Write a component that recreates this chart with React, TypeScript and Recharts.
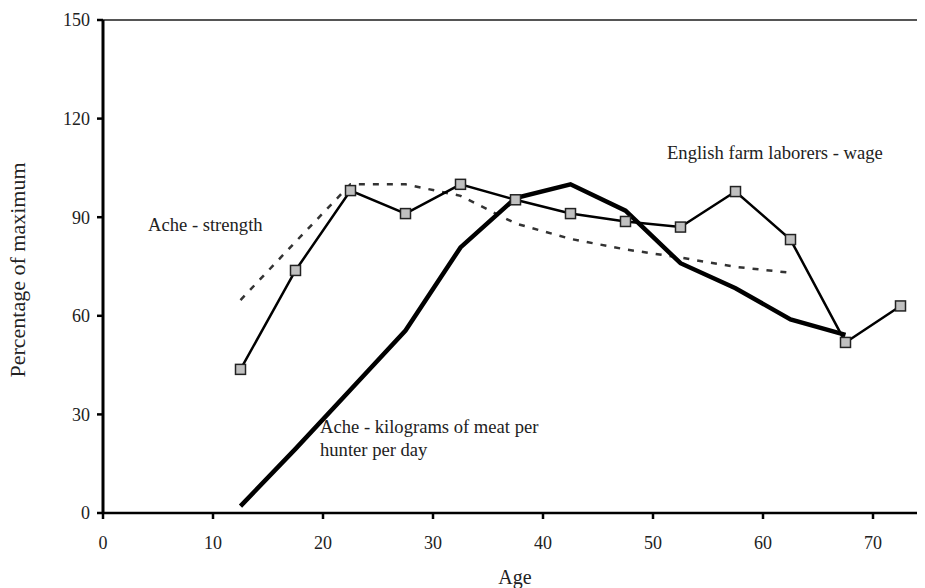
import React from 'react';
import { LineChart, Line, XAxis, YAxis, ReferenceLine } from 'recharts';

const ages = [12.5, 17.5, 22.5, 27.5, 32.5, 37.5, 42.5, 47.5, 52.5, 57.5, 62.5, 67.5, 72.5];
const englishWage = [43.7, 73.8, 98.1, 91.1, 100, 95.3, 91.1, 88.7, 87, 97.8, 83.2, 51.9, 63];
const acheMeat = [2.1, 19.5, 37.5, 55.5, 80.8, 95.8, 100, 92, 76, 68.4, 58.9, 54.2, null];
const acheStrength = [64.8, 82.5, 100, 100, 96.5, 88.1, 83.4, 80.2, 77.7, 74.9, 73.1, null, null];
const xTicks = [0, 10, 20, 30, 40, 50, 60, 70];
const yTicks = [0, 30, 60, 90, 120, 150];

const data = ages.map((a, i) => ({
  age: a,
  wage: englishWage[i],
  meat: acheMeat[i],
  strength: acheStrength[i],
}));

const FONT = '"Liberation Serif", "DejaVu Serif", serif';
const TEXT_COLOR = '#222';

const SquareDot = (props: any) => {
  const { cx, cy } = props;
  if (cx == null || cy == null) return null;
  return <rect x={cx - 5} y={cy - 5} width={10} height={10} fill="#c0c0c0" stroke="#222" strokeWidth={1.5} />;
};

const noteStyle: React.CSSProperties = {
  position: 'absolute',
  fontFamily: FONT,
  fontSize: 18.6,
  lineHeight: '22px',
  color: TEXT_COLOR,
  whiteSpace: 'nowrap',
};

const titleStyle: React.CSSProperties = {
  position: 'absolute',
  fontFamily: FONT,
  fontSize: 20,
  lineHeight: '24px',
  color: TEXT_COLOR,
  whiteSpace: 'nowrap',
};

export default function App() {
  return (
    <div style={{ position: 'relative', width: 917, height: 580 }}>
      <div style={{ position: 'absolute', left: 0, top: 0, width: 917, height: 580, overflow: 'hidden' }}>
        <LineChart
          width={925}
          height={580}
          data={data}
          margin={{ top: 12, right: 5, bottom: 0, left: 0 }}
        >
          <XAxis
            dataKey="age"
            type="number"
            domain={[0, 75]}
            ticks={xTicks}
            tickSize={6}
            tickMargin={17}
            height={75}
            axisLine={{ stroke: '#000', strokeWidth: 2.5 }}
            tickLine={{ stroke: '#000', strokeWidth: 2.5 }}
            tick={{ fill: TEXT_COLOR, fontSize: 18, fontFamily: FONT }}
          />
          <YAxis
            type="number"
            domain={[0, 150]}
            ticks={yTicks}
            width={95}
            tickSize={6}
            tickMargin={7}
            axisLine={{ stroke: '#000', strokeWidth: 3 }}
            tickLine={{ stroke: '#000', strokeWidth: 2.5 }}
            tick={{ fill: TEXT_COLOR, fontSize: 18, fontFamily: FONT }}
          />
          <ReferenceLine y={150} stroke="#555" strokeWidth={2} />
          <Line
            dataKey="strength"
            stroke="#333"
            strokeWidth={2.5}
            strokeDasharray="6 8"
            dot={false}
            isAnimationActive={false}
          />
          <Line
            dataKey="meat"
            stroke="#000"
            strokeWidth={4.5}
            dot={false}
            isAnimationActive={false}
          />
          <Line
            dataKey="wage"
            stroke="#000"
            strokeWidth={2.5}
            dot={<SquareDot />}
            isAnimationActive={false}
          />
        </LineChart>
      </div>
      <div style={{ ...noteStyle, left: 659, top: 133.7 }}>English farm laborers - wage</div>
      <div style={{ ...noteStyle, left: 140, top: 206.4 }}>Ache - strength</div>
      <div style={{ ...noteStyle, left: 312, top: 408 }}>Ache - kilograms of meat per</div>
      <div style={{ ...noteStyle, left: 312, top: 430.7 }}>hunter per day</div>
      <div style={{ ...titleStyle, left: 507, top: 557.25, transform: 'translateX(-50%)' }}>Age</div>
      <div
        style={{
          ...titleStyle,
          fontSize: 22,
          lineHeight: '26px',
          left: 9.6,
          top: 261.5,
          transform: 'translate(-50%, -50%) rotate(-90deg)',
        }}
      >
        Percentage of maximum
      </div>
    </div>
  );
}
